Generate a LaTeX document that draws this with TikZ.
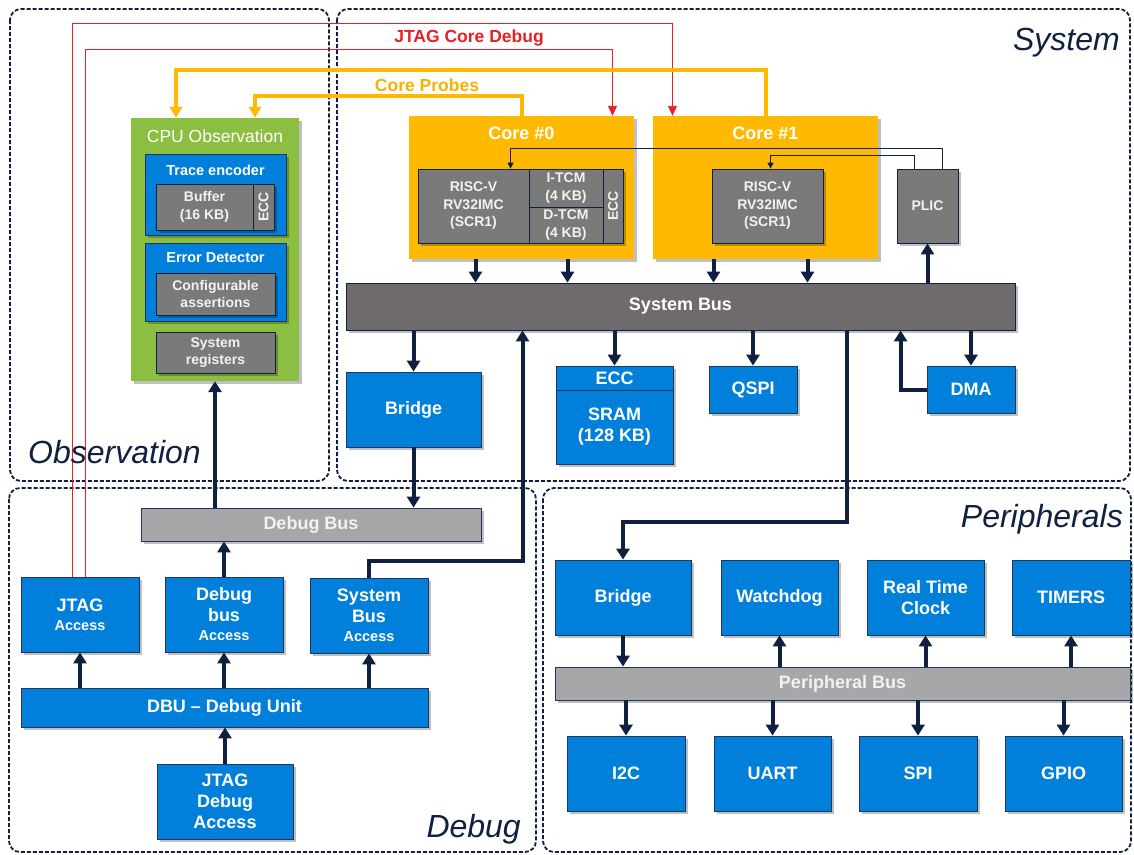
\documentclass[tikz,border=0pt]{standalone}
\usepackage{fontspec}
\setmainfont{Liberation Sans}
\usepackage{tikz}
\usetikzlibrary{arrows.meta, shadows}
\definecolor{navyline}{RGB}{16, 32, 64}
\definecolor{blockblue}{RGB}{0, 128, 218}
\definecolor{blockedge}{RGB}{30, 55, 95}
\definecolor{coregrey}{RGB}{122, 122, 122}
\definecolor{sysbusgrey}{RGB}{110, 106, 110}
\definecolor{busgrey}{RGB}{167, 167, 170}
\definecolor{obsgreen}{RGB}{140, 190, 65}
\definecolor{coreorange}{RGB}{255, 185, 0}
\definecolor{probetext}{RGB}{245, 178, 0}
\definecolor{jtagred}{RGB}{235, 30, 35}
\definecolor{softwhite}{RGB}{242, 242, 242}
\newcommand{\sizebig}{\fontsize{18}{21}\selectfont}
\newcommand{\sizemid}{\fontsize{14.5}{17}\selectfont}
\newcommand{\sizesmall}{\fontsize{14}{17.5}\selectfont}
\newcommand{\sizeregion}{\fontsize{32}{36}\selectfont}

\begin{document}
\begin{tikzpicture}[
    x=1pt, y=-1pt,
    softshadow/.style={drop shadow={shadow xshift=2.5pt, shadow yshift=-2.5pt, opacity=0.25, fill=black}},
    region/.style={draw=navyline, line width=1.8pt, dash pattern=on 4pt off 2pt, rounded corners=11pt},
    regionlabel/.style={text=navyline, font=\sizeregion\itshape, inner sep=0pt},
    block/.style={rectangle, draw=blockedge, line width=0.8pt, fill=blockblue, text=white, font=\sizebig\bfseries, align=center, inner sep=0pt, softshadow},
    unit/.style={rectangle, draw=navyline, line width=0.8pt, fill=coregrey, text=softwhite, font=\sizesmall\bfseries, align=center, inner sep=0pt, softshadow},
    sysbus/.style={rectangle, draw=navyline, line width=0.8pt, fill=sysbusgrey, text=white, font=\sizebig\bfseries, inner sep=0pt, softshadow},
    periphbus/.style={sysbus, draw=blockedge, fill=busgrey, text=softwhite},
    core/.style={rectangle, fill=coreorange, inner sep=0pt, softshadow},
    observe/.style={rectangle, fill=obsgreen, inner sep=0pt, softshadow},
    boxtitle/.style={text=white, font=\sizebig\bfseries, inner sep=0pt},
    subtitle/.style={text=white, font=\sizemid\bfseries, inner sep=0pt},
    link/.style={draw=navyline, line width=4pt, -{Triangle[length=11pt, width=13pt]}},
    irq/.style={draw=navyline, line width=1.2pt, -{Triangle[length=6pt, width=6pt]}},
    jtag/.style={draw=jtagred, line width=0.9pt, -{Triangle[length=10pt, width=9pt]}},
    probe/.style={draw=coreorange, line width=4pt, -{Triangle[length=11pt, width=12pt]}}
]
\fill [white] (0,0) rectangle (1134,854);
\useasboundingbox (0,0) rectangle (1134,854);

\draw [region] (10,9) rectangle (329,481);
\draw [region] (337,9) rectangle (1130,481);
\draw [region] (9,488) rectangle (536,852);
\draw [region] (543,488) rectangle (1131,852);

% observation
\node [observe, minimum width=168pt, minimum height=263pt] (cpu_obs) at (215,249.5) {};
\node [boxtitle, font=\fontsize{17.5}{20}\selectfont] (cpu_obs_title) at (215,136) {CPU Observation};
\node [block, minimum width=141pt, minimum height=81pt] (trace_enc) at (215.5,194.5) {};
\node [subtitle] (trace_title) at (215.5,170) {Trace encoder};
\node [unit, minimum width=97pt, minimum height=46pt] (buffer) at (204.5,207) {Buffer\\(16 KB)};
\node [unit, minimum width=21pt, minimum height=46pt] (buffer_ecc) at (263.5,207) {\rotatebox{90}{ECC}};
\node [block, minimum width=141pt, minimum height=78pt] (err_det) at (215.5,282) {};
\node [subtitle] (err_title) at (215.5,258) {Error Detector};
\node [unit, minimum width=119pt, minimum height=42pt] (assertions) at (215.5,294) {Configurable\\assertions};
\node [unit, minimum width=119pt, minimum height=41pt] (sys_regs) at (215.5,352.5) {System\\registers};

% system
\node [core, minimum width=225pt, minimum height=143pt] (core0) at (521.5,187.5) {};
\node [boxtitle] (core0_title) at (521.5,133) {Core \#0};
\node [unit, minimum width=111pt, minimum height=74pt] (core0_cpu) at (473.5,206) {RISC-V\\RV32IMC\\(SCR1)};
\node [unit, minimum width=74pt, minimum height=38pt] (core0_itcm) at (566,188) {I-TCM\\(4 KB)};
\node [unit, minimum width=74pt, minimum height=36pt] (core0_dtcm) at (566,225) {D-TCM\\(4 KB)};
\node [unit, minimum width=20pt, minimum height=74pt] (core0_ecc) at (613,206) {\rotatebox{90}{ECC}};
\node [core, minimum width=225pt, minimum height=143pt] (core1) at (765.5,187.5) {};
\node [boxtitle] (core1_title) at (765.5,133) {Core \#1};
\node [unit, minimum width=111pt, minimum height=74pt] (core1_cpu) at (767.5,206) {RISC-V\\RV32IMC\\(SCR1)};
\node [unit, minimum width=61pt, minimum height=74pt] (plic) at (927.5,206) {PLIC};
\node [sysbus, minimum width=669pt, minimum height=47pt] (sys_bus) at (680.5,306.5) {System Bus};
\node [block, minimum width=135pt, minimum height=75pt] (bridge) at (413.5,409.5) {Bridge};
\node [block, minimum width=117pt, minimum height=24pt] (sram_ecc) at (614.5,378) {ECC};
\node [block, minimum width=117pt, minimum height=74pt] (sram) at (614.5,427) {SRAM\\(128 KB)};
\node [block, minimum width=88pt, minimum height=47pt] (qspi) at (753,389.5) {QSPI};
\node [block, minimum width=88pt, minimum height=47pt] (dma) at (971,389.5) {DMA};

% debug
\node [periphbus, minimum width=340pt, minimum height=33pt] (dbg_bus) at (311,524.5) {Debug Bus};
\node [block, minimum width=118pt, minimum height=75pt] (jtag_acc) at (80,614.5) {JTAG\\[-2pt]{\sizemid Access}};
\node [block, minimum width=118pt, minimum height=75pt] (dba) at (224,614.5) {Debug\\bus\\[-2pt]{\sizemid Access}};
\node [block, minimum width=118pt, minimum height=75pt] (sba) at (369,615.5) {System\\Bus\\[-2pt]{\sizemid Access}};
\node [block, minimum width=407pt, minimum height=39pt] (dbu) at (224.5,707.5) {DBU – Debug Unit};
\node [block, minimum width=136pt, minimum height=75pt] (jtag_dbg) at (225,801.5) {JTAG\\Debug\\Access};

% peripherals
\node [block, minimum width=136pt, minimum height=75pt] (p_bridge) at (623,597.5) {Bridge};
\node [block, minimum width=117pt, minimum height=75pt] (wdog) at (779.5,597.5) {Watchdog};
\node [block, minimum width=117pt, minimum height=75pt] (rtc) at (925.5,597.5) {Real Time\\Clock};
\node [block, minimum width=118pt, minimum height=75pt] (timers) at (1071,597.5) {TIMERS};
\node [periphbus, minimum width=575pt, minimum height=33pt] (p_bus) at (842.5,683.5) {Peripheral Bus};
\node [block, minimum width=118pt, minimum height=75pt] (i2c) at (626,773.5) {I2C};
\node [block, minimum width=117pt, minimum height=75pt] (uart) at (772.5,773.5) {UART};
\node [block, minimum width=118pt, minimum height=75pt] (spi) at (918,773.5) {SPI};
\node [block, minimum width=117pt, minimum height=75pt] (gpio) at (1063.5,773.5) {GPIO};

% debug and probe links
\path [jtag] ([xshift=-8pt]jtag_acc.north) -- ++(0,-553) -| ([xshift=-93pt]core1.north);
\path [jtag] ([xshift=5pt]jtag_acc.north) -- ++(0,-527) -| ([xshift=91pt]core0.north);
\path [probe] (core1.north) -- ++(0,-46) -| ([xshift=-39pt]cpu_obs.north);
\path [probe] (core0.north) -- ++(0,-20) -| ([xshift=40pt]cpu_obs.north);
\node [text=jtagred, font=\fontsize{17.5}{20}\selectfont\bfseries, inner sep=0pt] (jtag_label) at (469,38) {JTAG Core Debug};
\node [text=probetext, font=\fontsize{17.5}{20}\selectfont\bfseries, inner sep=0pt] (probe_label) at (427,85) {Core Probes};

\path [irq] ([xshift=15pt]plic.north) -- ++(0,-20) -| ([xshift=37pt]core0_cpu.north);
\path [irq] ([xshift=-13pt]plic.north) -- ++(0,-13) -| ([xshift=3pt]core1_cpu.north);

% bus links
\path [link] ([xshift=-46pt]core0.south) -- ([xshift=-46pt]core0.south |- sys_bus.north);
\path [link] ([xshift=46pt]core0.south) -- ([xshift=46pt]core0.south |- sys_bus.north);
\path [link] ([xshift=-52pt]core1.south) -- ([xshift=-52pt]core1.south |- sys_bus.north);
\path [link] ([xshift=42pt]core1.south) -- ([xshift=42pt]core1.south |- sys_bus.north);
\path [link] (plic.south |- sys_bus.north) -- (plic.south);
\path [link] (bridge.north |- sys_bus.south) -- (bridge.north);
\path [link] (sram_ecc.north |- sys_bus.south) -- (sram_ecc.north);
\path [link] (qspi.north |- sys_bus.south) -- (qspi.north);
\path [link] (dma.north |- sys_bus.south) -- (dma.north);
\path [link] (dma.west) -| ([xshift=-26pt]dma.west |- sys_bus.south);
\path [link] ([xshift=166pt]sys_bus.south) -- ++(0,192) -| (p_bridge.north);
\path [link] (sba.north) -- ++(0,-17) -| ([xshift=-158pt]sys_bus.south);
\path [link] (bridge.south) -- (bridge.south |- dbg_bus.north);
\path [link] (cpu_obs.south |- dbg_bus.north) -- (cpu_obs.south);
\path [link] (dba.north) -- (dba.north |- dbg_bus.south);
\path [link] (jtag_acc.south |- dbu.north) -- (jtag_acc.south);
\path [link] (dba.south |- dbu.north) -- (dba.south);
\path [link] (sba.south |- dbu.north) -- (sba.south);
\path [link] (jtag_dbg.north) -- (jtag_dbg.north |- dbu.south);
\path [link] (p_bridge.south) -- (p_bridge.south |- p_bus.north);
\path [link] (wdog.south |- p_bus.north) -- (wdog.south);
\path [link] (rtc.south |- p_bus.north) -- (rtc.south);
\path [link] (timers.south |- p_bus.north) -- (timers.south);
\path [link] (i2c.north |- p_bus.south) -- (i2c.north);
\path [link] (uart.north |- p_bus.south) -- (uart.north);
\path [link] (spi.north |- p_bus.south) -- (spi.north);
\path [link] (gpio.north |- p_bus.south) -- (gpio.north);

\node [regionlabel, anchor=base east] (system_label) at (1120,50) {System};
\node [regionlabel, anchor=base west] (obs_label) at (28,463) {Observation};
\node [regionlabel, anchor=base east] (debug_label) at (521,837) {Debug};
\node [regionlabel, anchor=base east] (periph_label) at (1123,527) {Peripherals};
\end{tikzpicture}
\end{document}
